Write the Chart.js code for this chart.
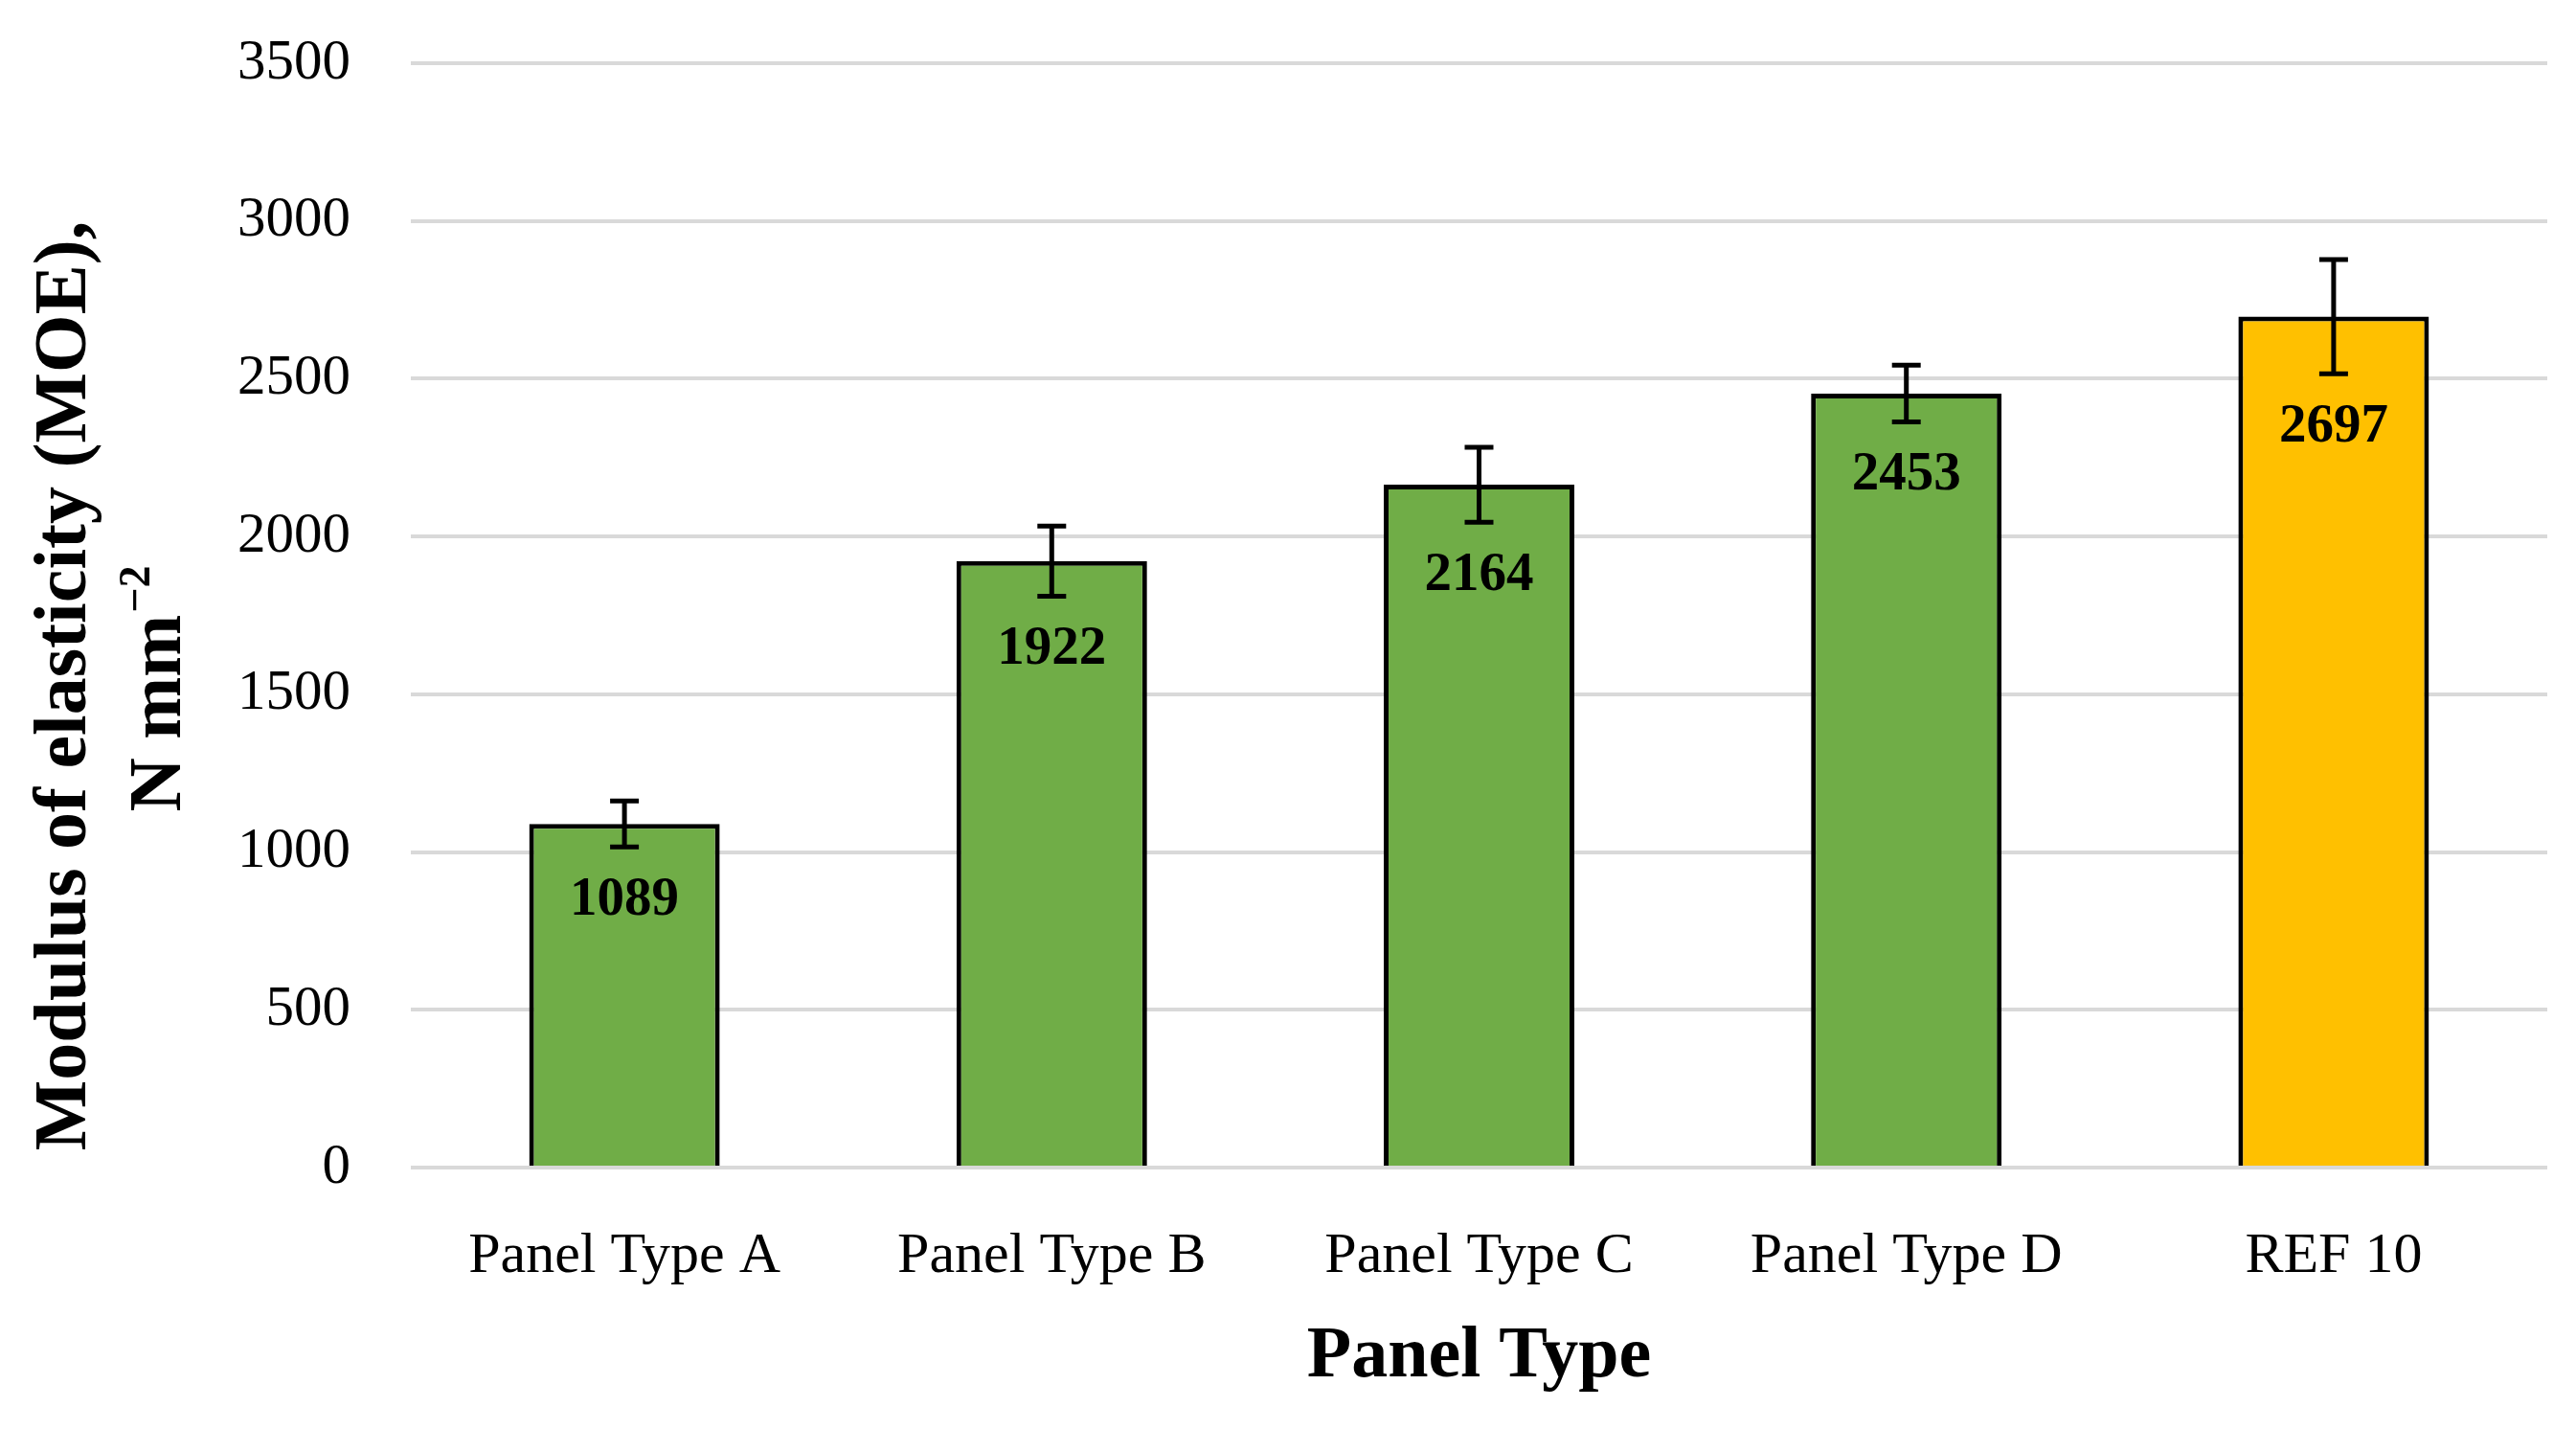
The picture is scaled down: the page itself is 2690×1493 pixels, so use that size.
<!DOCTYPE html>
<html>
<head>
<meta charset="utf-8">
<script src="https://cdn.jsdelivr.net/npm/chart.js@4.4.1/dist/chart.umd.min.js"></script>
<style>
  html, body { margin: 0; padding: 0; background: #fff; }
  canvas { display: block; }
</style>
</head>
<body>
<canvas id="moe" width="2690" height="1493"></canvas>
<script>
// values
const panelTypes = ['Panel Type A', 'Panel Type B', 'Panel Type C', 'Panel Type D', 'REF 10'];
const moeValues = [1089, 1922, 2164, 2453, 2697];
const moeErrors = [73, 111, 119, 90, 181];
const barColors = ['#70AD47', '#70AD47', '#70AD47', '#70AD47', '#FFC000'];

const SERIF = '"Liberation Serif", "Times New Roman", serif';

// error bars + value labels drawn on top of the bars
const errorBarsPlugin = {
    id: 'errorBars',
    afterDatasetsDraw(chart) {
        const ctx = chart.ctx;
        const y = chart.scales.y;
        const meta = chart.getDatasetMeta(0);
        ctx.save();
        ctx.strokeStyle = '#000';
        ctx.lineWidth = 5;
        meta.data.forEach((bar, i) => {
            const top = y.getPixelForValue(moeValues[i] + moeErrors[i]);
            const bot = y.getPixelForValue(moeValues[i] - moeErrors[i]);
            ctx.beginPath();
            ctx.moveTo(bar.x, top);
            ctx.lineTo(bar.x, bot);
            ctx.moveTo(bar.x - 15, top);
            ctx.lineTo(bar.x + 15, top);
            ctx.moveTo(bar.x - 15, bot);
            ctx.lineTo(bar.x + 15, bot);
            ctx.stroke();

            ctx.fillStyle = '#000';
            ctx.font = 'bold 57px ' + SERIF;
            ctx.textAlign = 'center';
            ctx.textBaseline = 'middle';
            ctx.fillText(String(moeValues[i]), bar.x, bot + 56);
        });
        ctx.restore();
    }
};

// two-line rotated y-axis title with superscript
const yTitlePlugin = {
    id: 'yTitle',
    afterDraw(chart) {
        const ctx = chart.ctx;
        ctx.save();
        ctx.fillStyle = '#000';
        ctx.textBaseline = 'middle';

        ctx.translate(69, 716);
        ctx.rotate(-Math.PI / 2);
        ctx.font = 'bold 78px ' + SERIF;
        ctx.textAlign = 'center';
        ctx.fillText('Modulus of elasticity (MOE),', 0, 0);
        ctx.restore();

        ctx.save();
        ctx.fillStyle = '#000';
        ctx.textBaseline = 'middle';
        ctx.translate(168, 720);
        ctx.rotate(-Math.PI / 2);
        ctx.font = 'bold 78px ' + SERIF;
        const main = 'N mm';
        const wMain = ctx.measureText(main).width;
        ctx.font = 'bold 46px ' + SERIF;
        const sup = '\u22122';
        const wSup = ctx.measureText(sup).width;
        const start = -(wMain + wSup) / 2;
        ctx.textAlign = 'left';
        ctx.font = 'bold 78px ' + SERIF;
        ctx.fillText(main, start, 0);
        ctx.font = 'bold 46px ' + SERIF;
        ctx.fillText(sup, start + wMain + 2, -24);
        ctx.restore();
    }
};

new Chart(document.getElementById('moe'), {
    type: 'bar',
    data: {
        labels: panelTypes,
        datasets: [{
            data: moeValues,
            backgroundColor: barColors,
            borderColor: '#000',
            borderWidth: 5,
            categoryPercentage: 1,
            barPercentage: 0.446
        }]
    },
    options: {
        responsive: false,
        animation: false,
        layout: { padding: { top: 66, right: 30, left: 0, bottom: 0 } },
        plugins: {
            legend: { display: false },
            tooltip: { enabled: false }
        },
        scales: {
            x: {
                grid: { display: false },
                border: { display: false },
                ticks: {
                    color: '#000',
                    padding: 49,
                    font: { family: SERIF, size: 60 }
                },
                title: {
                    display: true,
                    text: 'Panel Type',
                    color: '#000',
                    font: { family: SERIF, size: 76, weight: 'bold' },
                    padding: { top: 0, bottom: 30 }
                },
                afterFit(scale) { scale.height = 274; }
            },
            y: {
                min: 0,
                max: 3500,
                grid: { color: '#d9d9d9', lineWidth: 4, drawTicks: false },
                border: { display: false },
                ticks: {
                    stepSize: 500,
                    color: '#000',
                    padding: 63,
                    font: { family: SERIF, size: 59 },
                    callback: (v) => String(v)
                },
                afterFit(scale) {
                    scale.width = 429;
                    scale.paddingTop = 0;
                    scale.paddingBottom = 0;
                }
            }
        }
    },
    plugins: [errorBarsPlugin, yTitlePlugin]
});
</script>
</body>
</html>
